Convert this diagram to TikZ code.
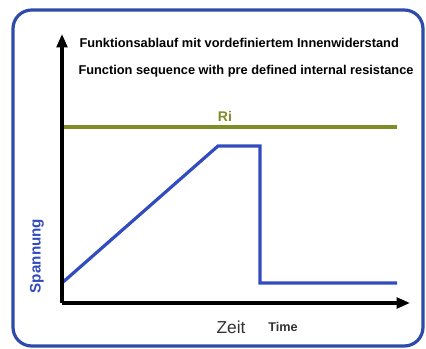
\documentclass[tikz,border=0pt]{standalone}
\usepackage{fontspec}
\setmainfont{Liberation Sans}
\usetikzlibrary{arrows.meta}

\definecolor{frameblue}{RGB}{45,75,170}
\definecolor{curveblue}{RGB}{50,75,190}
\definecolor{riolive}{RGB}{128,140,40}
\definecolor{textgray}{RGB}{50,50,50}

\tikzset{every picture/.style={line width=0.75pt}}

\begin{document}
\begin{tikzpicture}[x=0.75pt,y=0.75pt,yscale=-1,xscale=1,
  axis/.style={line width=2.3pt,-{Triangle[length=10pt,width=8pt]}},
  curve/.style={curveblue,line width=2.4pt,line join=miter},
  label/.style={inner sep=0.75pt,font=\bfseries}]
\useasboundingbox (0,0) rectangle (426,349);

%Shape: Rounded Rect
\draw [frameblue,line width=2.4pt,rounded corners=14pt] (13,10) rectangle (423,346);

%Coordinates of the chart
\coordinate (origin) at (62,303);
\coordinate (ytop) at (62,34);
\coordinate (xend) at (410,303);
\coordinate (riA) at (62,127);
\coordinate (riB) at (397,127);

%Ri line
\draw [riolive,line width=2.3pt] (riA) -- (riB);
%Voltage curve
\draw [curve] (62,283) -- (218,146) -- (260,146) -- (260,283) -- (397,283);
%Axes
\draw [axis] (origin) -- (ytop);
\draw [axis] (origin) -- (xend);

% Text Node
\node (title1) [label,anchor=west,font=\bfseries\fontsize{9.6}{11}\selectfont] at (78,43) {Funktionsablauf mit vordefiniertem Innenwiderstand};
% Text Node
\node (title2) [label,anchor=west,font=\bfseries\fontsize{9.6}{11}\selectfont] at (77,71) {Function sequence with pre defined internal resistance};
% Text Node
\node (ri) [label,riolive,font=\bfseries\fontsize{10.5}{12}\selectfont] at (225,116) {Ri};
% Text Node
\node (spannung) [label,curveblue,rotate=90,font=\bfseries\fontsize{11.4}{13}\selectfont] at (37,256) {Spannung};
% Text Node
\node (zeit) [inner sep=0.75pt,textgray,font=\fontsize{13}{15}\selectfont] at (231,327) {Zeit};
% Text Node
\node (time) [label,textgray,font=\bfseries\fontsize{9.5}{11}\selectfont] at (283,327) {Time};

\end{tikzpicture}
\end{document}
